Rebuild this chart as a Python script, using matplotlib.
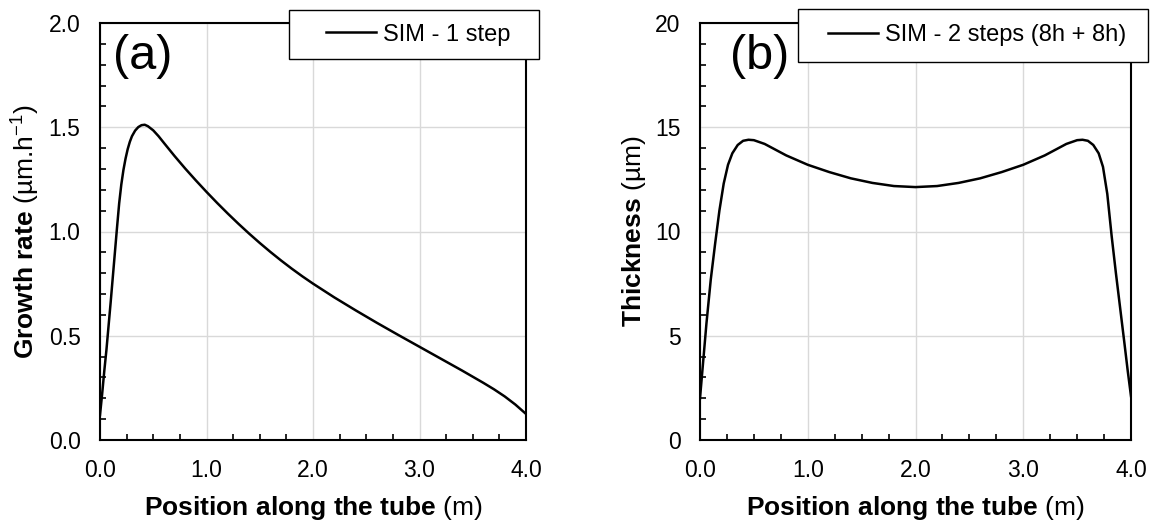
import matplotlib
matplotlib.use("Agg")
import matplotlib.pyplot as plt
from matplotlib.lines import Line2D
from matplotlib.patches import Rectangle
from matplotlib.ticker import MultipleLocator, FormatStrFormatter

plt.rcParams["font.family"] = ["Liberation Sans", "DejaVu Sans"]
plt.rcParams["mathtext.fontset"] = "custom"
plt.rcParams["mathtext.rm"] = "Liberation Sans"
plt.rcParams["mathtext.bf"] = "Liberation Sans:bold"
plt.rcParams["mathtext.it"] = "Liberation Sans:italic"

# (a) growth rate, one step
pos_a = [0.0, 0.02, 0.04, 0.06, 0.08, 0.1, 0.12, 0.14, 0.16, 0.18, 0.2, 0.22,
         0.24, 0.26, 0.28, 0.3, 0.33, 0.36, 0.39, 0.42, 0.45, 0.5, 0.55, 0.6,
         0.7, 0.8, 0.9, 1.0, 1.1, 1.2, 1.3, 1.4, 1.5, 1.6, 1.7, 1.8, 1.9, 2.0,
         2.2, 2.4, 2.6, 2.8, 3.0, 3.2, 3.4, 3.6, 3.7, 3.8, 3.9, 4.0]
rate_a = [0.12, 0.22, 0.33, 0.43, 0.545, 0.66, 0.78, 0.90, 1.02, 1.135, 1.225, 1.295,
          1.35, 1.395, 1.43, 1.457, 1.484, 1.501, 1.51, 1.512, 1.505, 1.485, 1.457, 1.425,
          1.362, 1.302, 1.245, 1.19, 1.137, 1.086, 1.037, 0.99, 0.945, 0.902, 0.861, 0.822, 0.785, 0.75,
          0.684, 0.622, 0.562, 0.504, 0.447, 0.39, 0.333, 0.274, 0.243, 0.209, 0.17, 0.125]

# (b) thickness, two steps
pos_b = [0.0, 0.03, 0.06, 0.1, 0.14, 0.18, 0.22, 0.26, 0.3, 0.35, 0.4, 0.45, 0.5,
         0.6, 0.8, 1.0, 1.2, 1.4, 1.6, 1.8, 2.0, 2.2, 2.4, 2.6, 2.8, 3.0, 3.2,
         3.4, 3.5, 3.55, 3.6, 3.65, 3.7, 3.74, 3.78, 3.82, 3.86, 3.9, 3.94, 3.97, 4.0]
thick_b = [2.0, 3.8, 5.6, 7.7, 9.4, 11.0, 12.3, 13.2, 13.75, 14.15, 14.35, 14.4, 14.38,
           14.2, 13.65, 13.2, 12.85, 12.55, 12.33, 12.18, 12.13, 12.18, 12.33, 12.55, 12.85, 13.2, 13.65,
           14.2, 14.38, 14.4, 14.35, 14.15, 13.75, 13.1, 11.8, 9.8, 8.0, 6.3, 4.6, 3.3, 2.1]

label_a = "SIM - 1 step"
label_b = "SIM - 2 steps (8h + 8h)"

W, H = 1153, 522
fig = plt.figure(figsize=(W / 100, H / 100), dpi=100)
ax_a = fig.add_axes([100 / W, 1 - 440 / H, 426 / W, 417 / H])
ax_b = fig.add_axes([700 / W, 1 - 440 / H, 431 / W, 417 / H])

TICK_FS = 16.5
LABEL_FS = 19


def style(ax, ymax, ymajor, yminor, yfmt):
    ax.set_xlim(0, 4)
    ax.set_ylim(0, ymax)
    ax.xaxis.set_major_locator(MultipleLocator(1.0))
    ax.xaxis.set_minor_locator(MultipleLocator(0.25))
    ax.yaxis.set_major_locator(MultipleLocator(ymajor))
    ax.yaxis.set_minor_locator(MultipleLocator(yminor))
    ax.xaxis.set_major_formatter(FormatStrFormatter("%.1f"))
    ax.yaxis.set_major_formatter(FormatStrFormatter(yfmt))
    ax.grid(True, which="major", color="#d9d9d9", linewidth=1.0)
    ax.set_axisbelow(True)
    ax.tick_params(which="major", length=0, pad=14, labelsize=TICK_FS)
    ax.tick_params(which="minor", direction="in", length=4.5, width=1.2, color="black")
    for s in ax.spines.values():
        s.set_linewidth(1.5)
        s.set_color("black")


style(ax_a, 2.0, 0.5, 0.1, "%.1f")
style(ax_b, 20, 5, 1, "%d")

ax_a.plot(pos_a, rate_a, color="black", linewidth=1.8)
ax_b.plot(pos_b, thick_b, color="black", linewidth=1.8)

ax_a.set_xlabel(r"$\mathbf{Position\ along\ the\ tube}$ (m)", fontsize=LABEL_FS, labelpad=8.5)
ax_b.set_xlabel(r"$\mathbf{Position\ along\ the\ tube}$ (m)", fontsize=LABEL_FS, labelpad=8.5)
ax_a.set_ylabel(r"$\mathbf{Growth\ rate}$ (µm.h$^{-1}$)", fontsize=LABEL_FS)
ax_b.set_ylabel(r"$\mathbf{Thickness}$ (µm)", fontsize=LABEL_FS)
ax_a.yaxis.set_label_coords(-0.136, 0.5)
ax_b.yaxis.set_label_coords(-0.121, 0.5)

ax_a.text(0.10, 0.92, "(a)", transform=ax_a.transAxes, fontsize=35, ha="center", va="center")
ax_b.text(0.138, 0.92, "(b)", transform=ax_b.transAxes, fontsize=35, ha="center", va="center")

# legend boxes (pixel positions of the frame, then the entry start)
for (x0, y0, x1, y1, xl, lab) in ((289, 10, 539, 59, 326, label_a),
                                  (798, 9, 1148, 62, 828, label_b)):
    fig.add_artist(Rectangle((x0 / W, 1 - y1 / H), (x1 - x0) / W, (y1 - y0) / H,
                             transform=fig.transFigure, facecolor="white",
                             edgecolor="black", linewidth=1.0, zorder=4))
    handle = Line2D([], [], color="black", linewidth=1.8)
    leg = fig.legend([handle], [lab], loc="center left",
                     bbox_to_anchor=(xl / W, 1 - (y0 + y1) / 2 / H),
                     bbox_transform=fig.transFigure, frameon=False, borderpad=0,
                     borderaxespad=0, fontsize=17, handlelength=2.1, handletextpad=0.3)
    leg.set_zorder(6)

fig.savefig("out.png", dpi=100)
